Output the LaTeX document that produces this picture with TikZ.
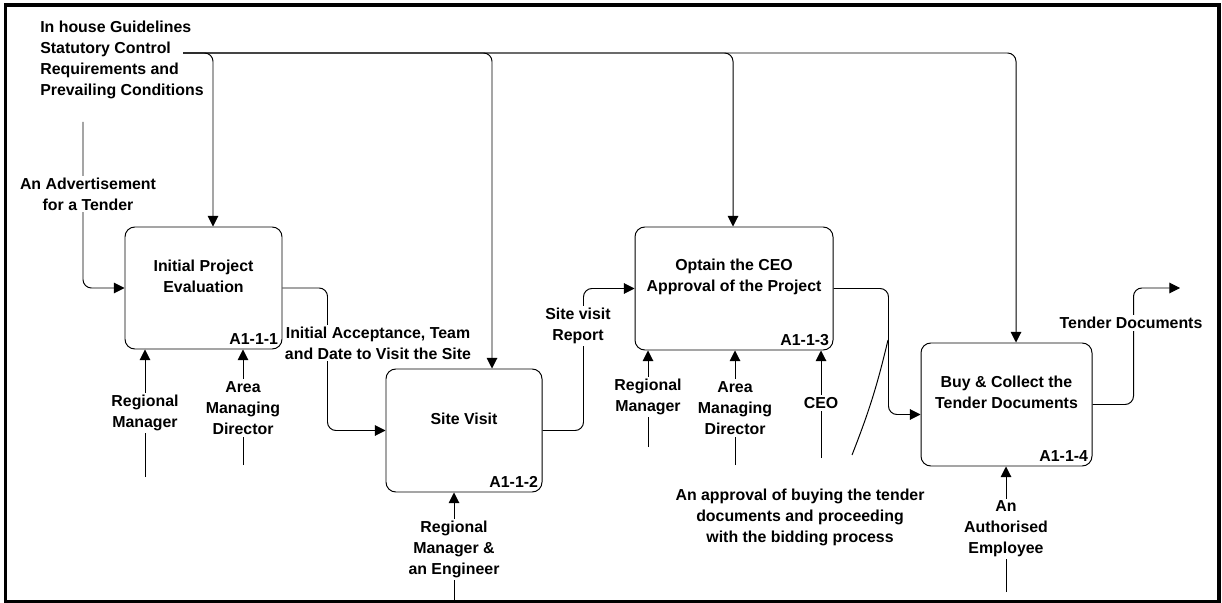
\documentclass[tikz,border=0pt]{standalone}
\usepackage{fontspec}
\setmainfont{Liberation Sans}
\usetikzlibrary{arrows.meta,calc}

\begin{document}
\begin{tikzpicture}[x=0.025cm,y=-0.025cm,
    font=\fontsize{11.3}{14.9}\selectfont\bfseries,
    proc/.style 2 args={draw, line width=0.7pt, rounded corners=7pt,
      minimum width=#1*0.025cm, minimum height=#2*0.025cm, inner sep=0pt},
    flow/.style={line width=0.7pt, rounded corners=6pt,
      -{Triangle[length=7.5pt,width=7.5pt]}},
    ttl/.style={align=center, inner sep=0pt},
    code/.style={anchor=south east, inner sep=3pt},
    lbl/.style={fill=white, align=center, inner sep=1.5pt}]
    \useasboundingbox (0,0) rectangle (1222,603);
    % Frame
    \draw[line width=2.2pt] (5.5,5) rectangle (1219,601.5);
    % Activities
    \node[proc={157}{122}] (b1) at (203.5,288) {};
    \node[proc={156}{123}] (b2) at (464,430.5) {};
    \node[proc={198}{123}] (b3) at (734,288.5) {};
    \node[proc={171}{123}] (b4) at (1006.5,404.5) {};
    \foreach \bx/\ttxt/\ctxt in {
      b1/{Initial Project\\Evaluation}/A1-1-1,
      b2/{Site Visit}/A1-1-2,
      b3/{Optain the CEO\\Approval of the Project}/A1-1-3,
      b4/{Buy \& Collect the\\Tender Documents}/A1-1-4
    }{
      \node[ttl] (\bx-t) at ($(\bx.north)+(0,50)$) {\ttxt};
      \node[code] (\bx-c) at (\bx.south east) {\ctxt};
    }
    % Controls
    \node[align=left, anchor=west, inner sep=0pt] (ctl) at (40,60)
      {In house Guidelines\\Statutory Control\\Requirements and\\Prevailing Conditions};
    \coordinate (ctl0) at (183,53);
    \foreach \bx/\dx in {b1/9.5,b2/28,b3/-1,b4/9.5}
      \draw[flow] (ctl0) -| ($(\bx.north)+(\dx,0)$);
    % Input and outputs
    \coordinate (in0) at (83,122);
    \coordinate (out4) at (1180,288);
    \draw[flow] (in0) |- (b1.west);
    \draw[flow] (b1.east) -- ++(45,0) |- (b2.west);
    \draw[flow] (b2.east) -- ++(41,0) |- (b3.west);
    \draw[flow] (b3.east) -- ++(55,0) |- ($(b4.west)+(0,10)$);
    \draw[flow] (b4.east) -- ++(41,0) |- (out4);
    \node[lbl] (in-l) at (88,194) {An Advertisement\\for a Tender};
    \node[lbl] (o1-l) at (378,343) {Initial Acceptance, Team\\and Date to Visit the Site};
    \node[lbl] (o2-l) at (578,326) {Site visit\\Report};
    \node[lbl] (o4-l) at (1131,323) {Tender Documents};
    % Squiggle to the approval
    \coordinate (sq0) at (888,340);
    \coordinate (sq1) at (852,455);
    \draw[line width=0.7pt] (sq0) to[bend left=4] (sq1);
    \node[align=center, inner sep=0pt] (o3-l) at (800,517)
      {An approval of buying the tender\\documents and proceeding\\with the bidding process};
    % Mechanisms
    \coordinate (m1a) at (145,477);
    \coordinate (m1b) at (243,465);
    \coordinate (m2a) at (454,601);
    \coordinate (m3a) at (648,447);
    \coordinate (m3b) at (735,465);
    \coordinate (m3c) at (821,458);
    \coordinate (m4a) at (1006,592);
    \draw[flow] (m1a) -- (m1a |- b1.south);
    \draw[flow] (m1b) -- (m1b |- b1.south);
    \draw[flow] (m2a) -- (m2a |- b2.south);
    \draw[flow] (m3a) -- (m3a |- b3.south);
    \draw[flow] (m3b) -- (m3b |- b3.south);
    \draw[flow] (m3c) -- (m3c |- b3.south);
    \draw[flow] (m4a) -- (m4a |- b4.south);
    \node[lbl] (m1a-l) at (145,413) {Regional\\Manager};
    \node[lbl] (m1b-l) at (243,408) {Area\\Managing\\Director};
    \node[lbl] (m2a-l) at (454,549) {Regional\\Manager \&\\an Engineer};
    \node[lbl] (m3a-l) at (648,397) {Regional\\Manager};
    \node[lbl] (m3b-l) at (735,408) {Area\\Managing\\Director};
    \node[lbl] (m3c-l) at (821,403) {CEO};
    \node[lbl] (m4a-l) at (1006,529) {An\\Authorised\\Employee};
  \end{tikzpicture}
\end{document}
